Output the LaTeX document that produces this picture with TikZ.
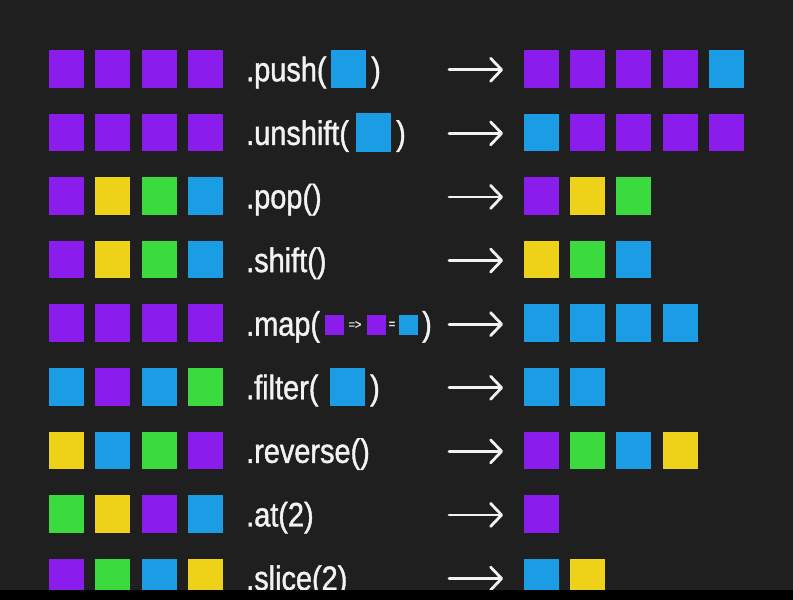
\documentclass[tikz,border=0pt]{standalone}
\usepackage{fontspec}
\usetikzlibrary{arrows.meta}
\newfontfamily\lblfont[FakeStretch=0.85,FakeBold=1.2]{Liberation Sans}
\definecolor{bgc}{HTML}{1F1F1F}
\definecolor{cP}{HTML}{8A1DEB}
\definecolor{cB}{HTML}{1B9DE6}
\definecolor{cY}{HTML}{EED21A}
\definecolor{cG}{HTML}{3BDB3F}
\definecolor{txt}{HTML}{F2F2F2}
\tikzset{
  sq/.style={rectangle, inner sep=0pt, minimum width=35pt, minimum height=37.5pt, draw=none},
  smallsq/.style={rectangle, inner sep=0pt, minimum width=19pt, minimum height=20pt, draw=none},
  lbl/.style={text=txt, inner sep=0pt, anchor=base west, font=\lblfont\fontsize{34}{40}\selectfont},
  tiny/.style={text=txt!85!gray, inner sep=0pt, font=\lblfont\fontsize{13}{15}\selectfont},
  arr/.style={draw=txt, line width=2.8pt, line cap=round, -{Straight Barb[length=11pt,width=23pt,round]}}
}
\begin{document}
\begin{tikzpicture}[x=1pt,y=-1pt]
\useasboundingbox (0,0) rectangle (793,600);
\fill[bgc] (0,0) rectangle (793,600);
% rows
\foreach \i/\lab/\L/\R in {
  1/{.push(}/{cP,cP,cP,cP}/{cP,cP,cP,cP,cB},
  2/{.unshift(}/{cP,cP,cP,cP}/{cB,cP,cP,cP,cP},
  3/{.pop()}/{cP,cY,cG,cB}/{cP,cY,cG},
  4/{.shift()}/{cP,cY,cG,cB}/{cY,cG,cB},
  5/{.map(}/{cP,cP,cP,cP}/{cB,cB,cB,cB},
  6/{.filter(}/{cB,cP,cB,cG}/{cB,cB},
  7/{.reverse()}/{cY,cB,cG,cP}/{cP,cG,cB,cY},
  8/{.at(2)}/{cG,cY,cP,cB}/{cP},
  9/{.slice(2)}/{cP,cG,cB,cY}/{cB,cY}}{
  \pgfmathsetmacro{\yc}{68.75+63.6*(\i-1)}
  \foreach \c [count=\j from 0] in \L {
    \node[sq, fill=\c] (l\i-\j) at ({66.5+46.3*\j},\yc) {};
  }
  \foreach \c [count=\j from 0] in \R {
    \node[sq, fill=\c] (r\i-\j) at ({541.5+46.2*\j},\yc) {};
  }
  \node[lbl] (t\i) at (246,\yc+12.5) {\lab};
  \coordinate (as\i) at (449,\yc+1);
  \coordinate (ae\i) at (503,\yc+1);
  \draw[arr] (as\i) -- (ae\i);
}
% inline arguments
\node[sq, fill=cB] (push-arg) at (348.5,69) {};
\node[lbl] (push-close) at (371,81.25) {)};
\node[sq, fill=cB, minimum height=39pt] (unshift-arg) at (373.5,132) {};
\node[lbl] (unshift-close) at (396,144.85) {)};
\node[sq, fill=cB] (filter-arg) at (347,387) {};
\node[lbl] (filter-close) at (370,399.25) {)};
% map callback
\node[smallsq, fill=cP] (map-a) at (334.5,325) {};
\node[tiny] (map-arrow) at (355,325) {=>};
\node[smallsq, fill=cP] (map-b) at (376.5,325) {};
\node[tiny] (map-eq) at (392,325) {=};
\node[smallsq, fill=cB] (map-c) at (408.5,325) {};
\node[lbl] (map-close) at (422,335.65) {)};
% bottom black strip
\fill[black] (0,590) rectangle (793,600);
\end{tikzpicture}
\end{document}
